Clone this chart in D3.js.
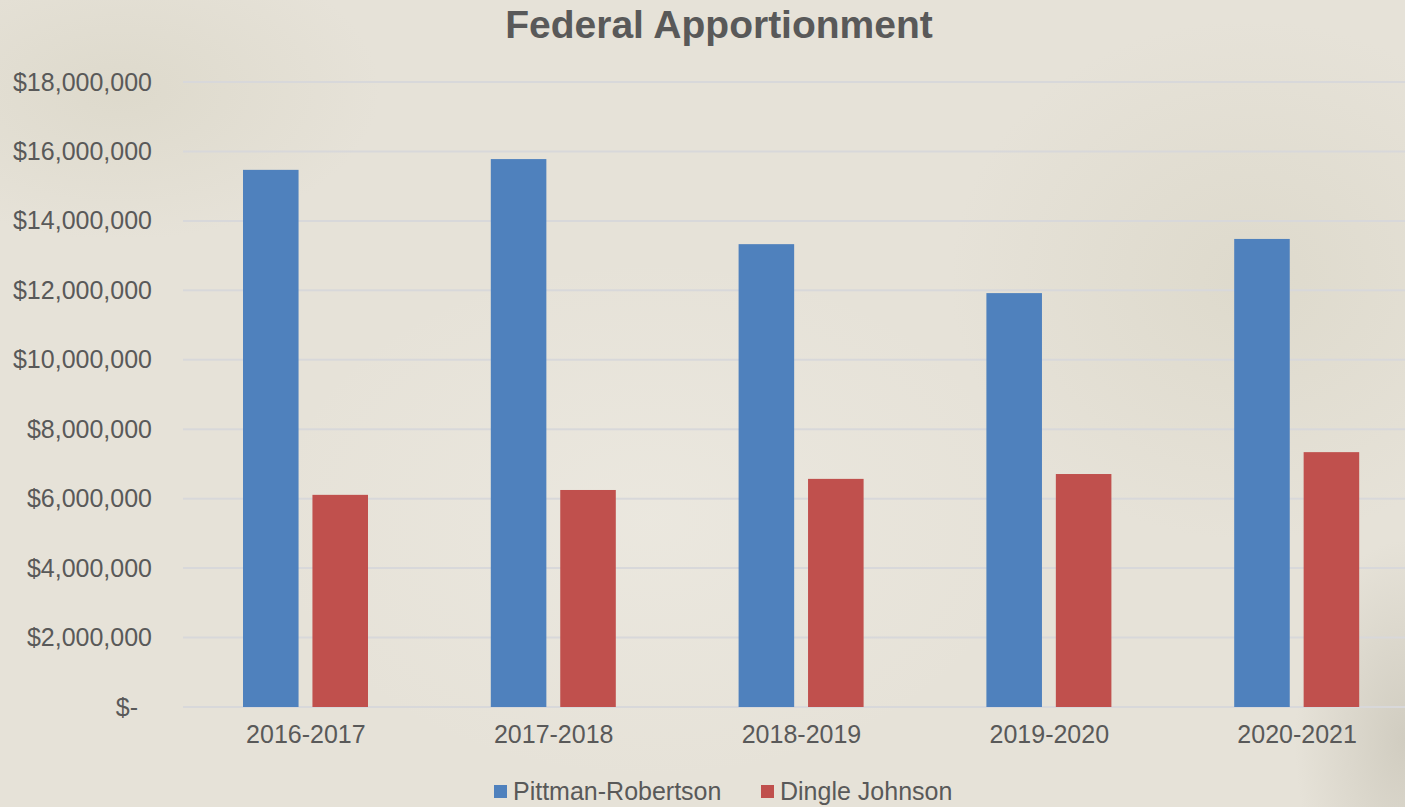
<!DOCTYPE html>
<html>
<head>
<meta charset="utf-8">
<script src="https://cdn.jsdelivr.net/npm/d3@7"></script>
<style>
  body { margin: 0; background: #e6e2d8; }
  svg text { font-family: "Liberation Sans", Arial, sans-serif; fill: #595959; }
</style>
</head>
<body>
<div id="chart"></div>
<script>
var w = 1405;
var h = 807;

// data
var years = ["2016-2017", "2017-2018", "2018-2019", "2019-2020", "2020-2021"];
var seriesNames = ["Pittman-Robertson", "Dingle Johnson"];
var pittmanRobertson = [15470000, 15780000, 13330000, 11920000, 13480000];
var dingleJohnson = [6110000, 6250000, 6570000, 6710000, 7340000];
var yTicks = [0, 2000000, 4000000, 6000000, 8000000, 10000000, 12000000, 14000000, 16000000, 18000000];
var colors = ["#4f81bd", "#c0504d"];

var svg = d3.select("#chart")
    .append("svg")
    .attr("width", w)
    .attr("height", h);

// parchment-ish background made of soft radial blotches
var defs = svg.append("defs");
function blotch(id, color, op) {
  var g = defs.append("radialGradient").attr("id", id);
  g.append("stop").attr("offset", "0%").attr("stop-color", color).attr("stop-opacity", op);
  g.append("stop").attr("offset", "100%").attr("stop-color", color).attr("stop-opacity", 0);
}
blotch("dark", "#bfbbad", 0.55);
blotch("warm", "#d8d4c4", 0.6);
blotch("light", "#eeebe3", 0.6);

svg.append("rect").attr("width", w).attr("height", h).attr("fill", "#e6e2d8");
svg.append("ellipse").attr("cx", 1250).attr("cy", 280).attr("rx", 300).attr("ry", 260).attr("fill", "url(#warm)");
svg.append("ellipse").attr("cx", 120).attr("cy", 90).attr("rx", 260).attr("ry", 150).attr("fill", "url(#warm)");
svg.append("ellipse").attr("cx", 650).attr("cy", 520).attr("rx", 380).attr("ry", 260).attr("fill", "url(#light)");
svg.append("ellipse").attr("cx", 1405).attr("cy", 740).attr("rx", 110).attr("ry", 200).attr("fill", "url(#dark)");

// scales
var x0 = d3.scaleBand().domain(years).range([182, 1421]).padding(0);
var x1 = d3.scaleBand().domain(seriesNames)
    .range([61, 186])
    .paddingInner(0.2)
    .paddingOuter(0);
var y = d3.scaleLinear().domain([0, 18000000]).range([707, 82]);

// gridlines
svg.append("g")
  .selectAll("line")
  .data(yTicks)
  .enter().append("line")
  .attr("x1", 183)
  .attr("x2", w)
  .attr("y1", function(d) { return y(d); })
  .attr("y2", function(d) { return y(d); })
  .attr("stroke", "#d8d8da")
  .attr("stroke-width", 2);

// y axis labels
var fmt = d3.format(",");
var yAxis = svg.append("g")
  .attr("transform", "translate(152,0)")
  .call(d3.axisLeft(y).tickValues(yTicks).tickSize(0).tickPadding(0)
    .tickFormat(function(d) { return d === 0 ? "$-" : "$" + fmt(d); }));
yAxis.select(".domain").remove();
yAxis.selectAll("text")
  .style("font-size", "25px")
  .attr("fill", "#595959")
  .attr("dx", function(d) { return d === 0 ? -14 : 0; });

// x axis labels
var xAxis = svg.append("g")
  .attr("transform", "translate(0,707)")
  .call(d3.axisBottom(x0).tickSize(0).tickPadding(18));
xAxis.select(".domain").remove();
xAxis.selectAll("text")
  .style("font-size", "25px")
  .attr("fill", "#595959");

// bars
var rows = years.map(function(yr, i) {
  return { year: yr, values: [pittmanRobertson[i], dingleJohnson[i]] };
});

var groups = svg.append("g")
  .selectAll("g")
  .data(rows)
  .enter().append("g")
  .attr("transform", function(d) { return "translate(" + x0(d.year) + ",0)"; });

groups.selectAll("rect")
  .data(function(d) { return d.values.map(function(v, j) { return { name: seriesNames[j], value: v, idx: j }; }); })
  .enter().append("rect")
  .attr("x", function(d) { return x1(d.name); })
  .attr("width", x1.bandwidth())
  .attr("y", function(d) { return y(d.value); })
  .attr("height", function(d) { return y(0) - y(d.value); })
  .attr("fill", function(d) { return colors[d.idx]; });

// title
svg.append("text")
  .attr("x", 719)
  .attr("y", 38)
  .attr("text-anchor", "middle")
  .style("font-size", "39px")
  .style("font-weight", "bold")
  .text("Federal Apportionment");

// legend
var legend = svg.append("g");
var legendX = [494, 761];
seriesNames.forEach(function(name, i) {
  legend.append("rect")
    .attr("x", legendX[i])
    .attr("y", 785)
    .attr("width", 13)
    .attr("height", 13)
    .attr("fill", colors[i]);
  legend.append("text")
    .attr("x", legendX[i] + 19)
    .attr("y", 800)
    .style("font-size", "25px")
    .text(name);
});
</script>
</body>
</html>
